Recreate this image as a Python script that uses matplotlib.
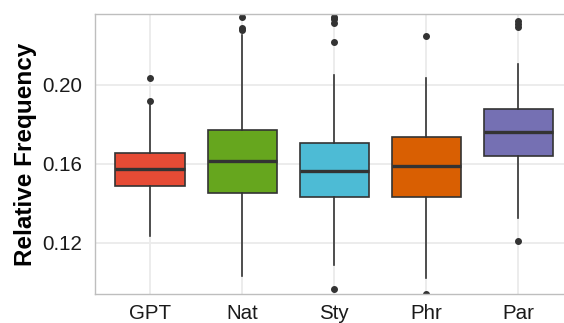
import matplotlib
matplotlib.use("Agg")
import matplotlib.pyplot as plt

# per-model box statistics (relative frequency)
models = ["GPT", "Nat", "Sty", "Phr", "Par"]
colors = ["#E64B35", "#66A61E", "#4DBBD5", "#D95F02", "#7570B3"]
q1 = [0.1487, 0.1453, 0.1433, 0.1433, 0.1639]
med = [0.1573, 0.1615, 0.1563, 0.1587, 0.1762]
q3 = [0.1656, 0.1771, 0.1704, 0.1737, 0.1879]
whislo = [0.1233, 0.1033, 0.1086, 0.1023, 0.1323]
whishi = [0.1900, 0.2253, 0.2049, 0.2037, 0.2105]
fliers = [
    [0.1920, 0.2033],
    [0.2277, 0.2287, 0.2347],
    [0.0966, 0.2216, 0.2316, 0.2334, 0.2345],
    [0.0940, 0.2248],
    [0.1209, 0.2293, 0.2310, 0.2322],
]

plt.rcParams['font.family'] = ['Liberation Sans', 'DejaVu Sans']

stats = []
for i in range(len(models)):
    stats.append({"label": models[i], "q1": q1[i], "med": med[i], "q3": q3[i],
                  "whislo": whislo[i], "whishi": whishi[i], "fliers": fliers[i]})

fig = plt.figure(figsize=(5.64, 3.23), dpi=100)
ax = fig.add_axes([0.168, 0.0898, 0.849, 0.8669])

ink = "#333333"
bp = ax.bxp(stats, positions=range(1, 6), widths=0.75, patch_artist=True,
            showcaps=False,
            boxprops=dict(edgecolor=ink, linewidth=1.2),
            medianprops=dict(color=ink, linewidth=2.4),
            whiskerprops=dict(color=ink, linewidth=1.2),
            flierprops=dict(marker="o", markerfacecolor=ink, markeredgecolor=ink,
                            markersize=4))
for patch, c in zip(bp["boxes"], colors):
    patch.set_facecolor(c)

ax.set_xlim(0.4, 5.6)
ax.set_ylim(0.094, 0.236)
ax.set_yticks([0.12, 0.16, 0.20])
ax.set_yticklabels(["0.12", "0.16", "0.20"])
ax.set_xticks(range(1, 6))
ax.set_xticklabels(models)

ax.grid(True, color="#EBEBEB", linewidth=1.3)
ax.set_axisbelow(True)
for s in ax.spines.values():
    s.set_color("#BEBEBE")
    s.set_linewidth(1.0)
ax.tick_params(length=0, labelsize=14.8, labelcolor="#1A1A1A")
ax.tick_params(axis="y", pad=9)
ax.tick_params(axis="x", pad=7)
ax.set_ylabel("Relative Frequency", fontsize=17.5, fontweight="bold",
              color="black", labelpad=3.5)

fig.savefig("out.png", dpi=100)
